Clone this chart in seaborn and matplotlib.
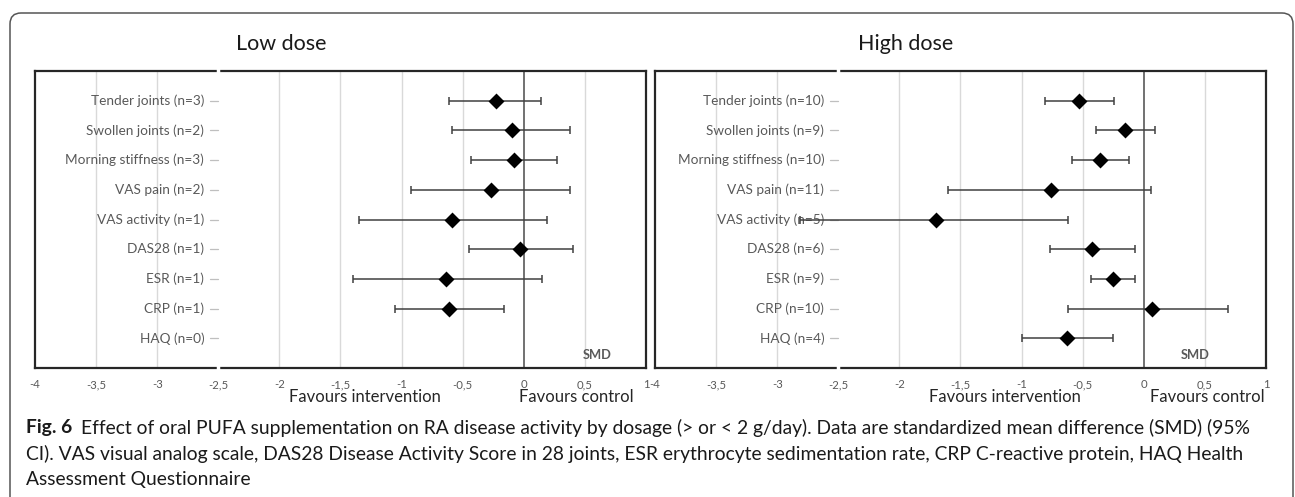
import numpy as np
import pandas as pd
import matplotlib
matplotlib.use("Agg")
import matplotlib.pyplot as plt
import seaborn as sns
from matplotlib.patches import FancyBboxPatch
from matplotlib.transforms import IdentityTransform

# ---------------- data ----------------
categories_low = ["Tender joints (n=3)", "Swollen joints (n=2)", "Morning stiffness (n=3)",
                  "VAS pain (n=2)", "VAS activity (n=1)", "DAS28 (n=1)", "ESR (n=1)",
                  "CRP (n=1)", "HAQ (n=0)"]
smd_low = [-0.23, -0.10, -0.08, -0.27, -0.59, -0.03, -0.64, -0.61, np.nan]
lo_low = [-0.61, -0.59, -0.43, -0.92, -1.35, -0.45, -1.40, -1.05, np.nan]
hi_low = [0.14, 0.38, 0.27, 0.38, 0.19, 0.40, 0.15, -0.16, np.nan]

categories_high = ["Tender joints (n=10)", "Swollen joints (n=9)", "Morning stiffness (n=10)",
                   "VAS pain (n=11)", "VAS activity (n=5)", "DAS28 (n=6)", "ESR (n=9)",
                   "CRP (n=10)", "HAQ (n=4)"]
smd_high = [-0.53, -0.15, -0.36, -0.76, -1.70, -0.42, -0.25, 0.07, -0.63]
lo_high = [-0.81, -0.39, -0.59, -1.60, -2.81, -0.77, -0.43, -0.62, -1.00]
hi_high = [-0.24, 0.09, -0.12, 0.06, -0.62, -0.07, -0.07, 0.69, -0.25]

x_ticks = [-4, -3.5, -3, -2.5, -2, -1.5, -1, -0.5, 0, 0.5, 1]
x_ticklabels = ["-4", "-3,5", "-3", "-2,5", "-2", "-1,5", "-1", "-0,5", "0", "0,5", "1"]
panel_titles = ["Low dose", "High dose"]
caption_bold = "Fig. 6"
caption_lines = [
    "Effect of oral PUFA supplementation on RA disease activity by dosage (> or < 2 g/day). Data are standardized mean difference (SMD) (95%",
    "CI). VAS visual analog scale, DAS28 Disease Activity Score in 28 joints, ESR erythrocyte sedimentation rate, CRP C-reactive protein, HAQ Health",
    "Assessment Questionnaire",
]

# ---------------- style ----------------
sns.set_theme(style="white")
plt.rcParams["font.family"] = ["Lato", "DejaVu Sans"]

W, H = 1295, 497
fig = plt.figure(figsize=(W / 100, H / 100), dpi=100)

# outer rounded frame
box = FancyBboxPatch((10, -30), 1283, H - 13 + 30,
                     boxstyle="round,pad=0,rounding_size=11",
                     transform=IdentityTransform(), fill=False,
                     edgecolor="#555555", linewidth=1.1)
fig.add_artist(box)

label_color = "#595959"
frame_color = "#262626"


def panel(x0_px, cats, smd, lo, hi, title, title_cx, fav_int_x, fav_ctl_x, smd_x):
    ax = fig.add_axes([x0_px / W, 1 - 368 / H, 611 / W, (368 - 71) / H])
    df = pd.DataFrame({"cat": cats, "smd": smd, "lo": lo, "hi": hi,
                       "pos": np.arange(1, len(cats) + 1)})
    ax.set_xlim(-4, 1)
    ax.set_ylim(10, 0)
    # grid
    for xv in x_ticks:
        if xv in (-4, 1, -2.5, 0):
            continue
        ax.axvline(xv, color="#d9d9d9", lw=1.0, zorder=0)
    ax.axvline(0, color="#4a4a4a", lw=1.1, zorder=1)
    # error bars
    d = df.dropna()
    ax.errorbar(d["smd"], d["pos"],
                xerr=[d["smd"] - d["lo"], d["hi"] - d["smd"]],
                fmt="none", ecolor="#404040", elinewidth=1.1, capsize=2.6,
                capthick=1.1, zorder=4)
    sns.scatterplot(data=d, x="smd", y="pos", marker="D", s=66, color="black",
                    edgecolor="black", linewidth=0, ax=ax, zorder=5, legend=False)
    # category labels at the -2.5 axis
    for _, r in df.iterrows():
        ax.text(-2.5 - 0.115, r["pos"], r["cat"], ha="right", va="center",
                fontsize=9.8, color=label_color, zorder=3)
        ax.plot([-2.5 - 0.07, -2.5], [r["pos"], r["pos"]], color="#bfbfbf",
                lw=0.9, zorder=3)
    ax.set_xticks(x_ticks)
    ax.set_xticklabels(x_ticklabels, fontsize=8.2, color=label_color)
    ax.tick_params(axis="x", length=0, pad=8)
    ax.set_yticks([])
    ax.set_xlabel("")
    ax.set_ylabel("")
    for s in ax.spines.values():
        s.set_visible(True)
        s.set_color(frame_color)
        s.set_linewidth(1.6)
    # white gap in frame at -2.5
    for yy in (0, 10):
        ax.plot([-2.5, -2.5], [yy - 0.12, yy + 0.12], color="white", lw=2.5,
                clip_on=False, zorder=10, solid_capstyle="butt")
    ax.text(smd_x, 9.55, "SMD", ha="center", va="center", fontsize=9.3,
            fontweight="bold", color=label_color)
    fig.text(title_cx / W, 1 - 44 / H, title, ha="center", va="center",
             fontsize=15.5, color="#1a1a1a")
    fig.text(fav_int_x / W, 1 - 397 / H, "Favours intervention", ha="center",
             va="center", fontsize=12, color="#262626")
    fig.text(fav_ctl_x / W, 1 - 397 / H, "Favours control", ha="center",
             va="center", fontsize=12, color="#262626")
    return ax


panel(35, categories_low, smd_low, lo_low, hi_low, panel_titles[0], 281, 365, 576, 0.6)
panel(655, categories_high, smd_high, lo_high, hi_high, panel_titles[1], 906, 1005, 1207, 0.42)

# caption
cap_fs = 13.9
t = fig.text(26 / W, 1 - 428 / H, caption_bold, ha="left", va="center",
             fontsize=cap_fs, fontweight="bold", color="#1a1a1a")
fig.canvas.draw()
bb = t.get_window_extent()
fig.text((bb.x1 + 9) / W, 1 - 428 / H, caption_lines[0], ha="left", va="center",
         fontsize=cap_fs, color="#1a1a1a")
fig.text(26 / W, 1 - 454 / H, caption_lines[1], ha="left", va="center",
         fontsize=cap_fs, color="#1a1a1a")
fig.text(26 / W, 1 - 480 / H, caption_lines[2], ha="left", va="center",
         fontsize=cap_fs, color="#1a1a1a")

fig.savefig("out.png", dpi=100, facecolor="white")
